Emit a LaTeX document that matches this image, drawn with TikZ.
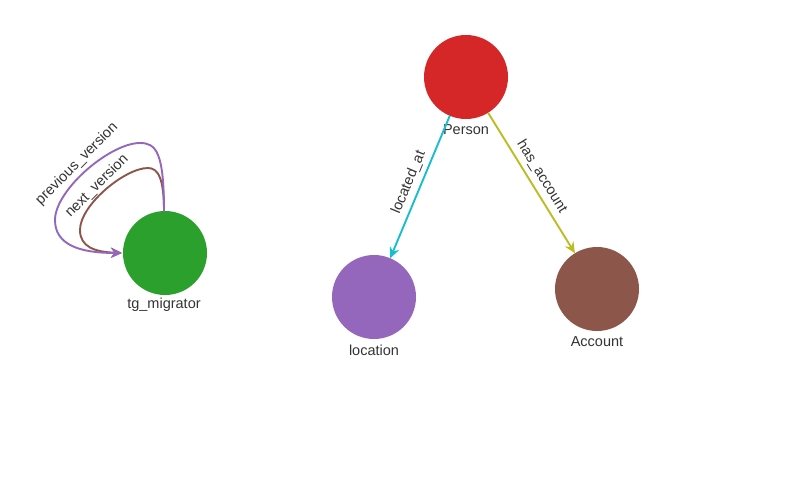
\documentclass[tikz,border=0pt]{standalone}
\usepackage{fontspec}
\setmainfont{Liberation Sans}
\usetikzlibrary{arrows.meta}
\definecolor{cred}{HTML}{D62728}
\definecolor{cgreen}{HTML}{2CA02C}
\definecolor{cpurple}{HTML}{9467BD}
\definecolor{cbrown}{HTML}{8C564B}
\definecolor{ccyan}{HTML}{17BECF}
\definecolor{colive}{HTML}{BCBD22}
\definecolor{ctext}{HTML}{333333}
\tikzset{
  vertex/.style={circle, minimum size=84pt, inner sep=0pt, outer sep=0pt},
  vlabel/.style={text=ctext, font=\fontsize{14.5}{16}\selectfont, inner sep=0pt},
  elabel/.style={text=ctext, font=\fontsize{14.5}{16}\selectfont, inner sep=4.5pt},
  edge/.style={line width=1.9pt, -{Stealth[length=11pt,width=10pt]}},
}
\begin{document}
\begin{tikzpicture}[x=1pt,y=-1pt]
\useasboundingbox (0,0) rectangle (788,479);
\node[vertex, fill=cred] (person) at (466,77) {};
\node[vertex, fill=cgreen] (tg) at (165,253) {};
\node[vertex, fill=cpurple] (location) at (374,297) {};
\node[vertex, fill=cbrown] (account) at (597,289) {};
\node[vlabel] (personl) at (466,130) {Person};
\node[vlabel] (tgl) at (164,305) {tg\_migrator};
\node[vlabel] (locationl) at (374,350) {location};
\node[vlabel] (accountl) at (597,342) {Account};
\draw[edge, draw=ccyan, color=ccyan] (person) -- node[elabel, pos=0.5, sloped, above] (lat) {located\_at} (location);
\draw[edge, draw=colive, color=colive] (person) -- node[elabel, pos=0.5, sloped, above] (hac) {has\_account} (account);
\coordinate (tgtop) at (164,211.5);
\coordinate (tgleft) at (122,253);
\draw[edge, draw=cbrown, color=cbrown] (tgtop) .. controls (164,178) and (158,168) .. (148,168) .. controls (125,168) and (80,205) .. (80,230) .. controls (80,247) and (95,252) .. (tgleft);
\draw[edge, draw=cpurple, color=cpurple] (tgtop) .. controls (164,152) and (156,143) .. (140,143) .. controls (110,143) and (55,190) .. (55,220) .. controls (55,245) and (80,253) .. (tgleft);
\node[elabel, rotate=45] (pv) at (77,164) {previous\_version};
\node[elabel, rotate=45] (nv) at (97,186) {next\_version};
\end{tikzpicture}
\end{document}
